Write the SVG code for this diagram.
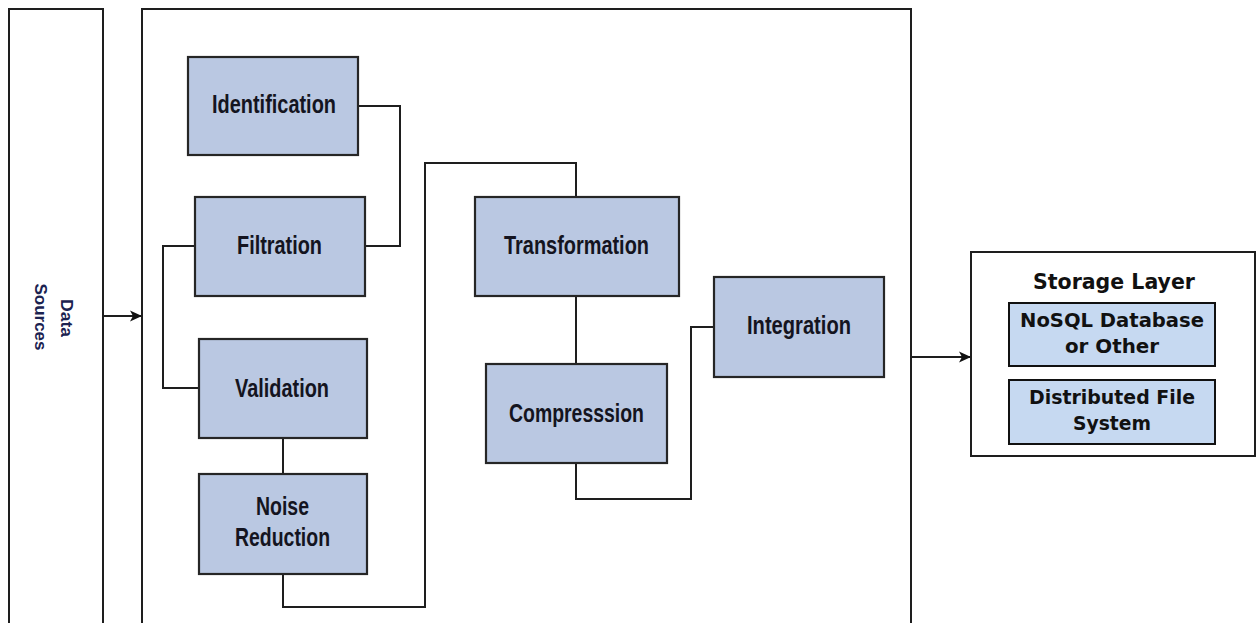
<svg xmlns="http://www.w3.org/2000/svg" width="1259" height="623" viewBox="0 0 1259 623">
  <style>
    .frame { fill: #ffffff; stroke: #1e1e1e; stroke-width: 2; }
    .step { fill: #bac8e2; stroke: #262626; stroke-width: 2.2; }
    .store { fill: #c6d9f1; stroke: #111111; stroke-width: 2; }
    .wire { fill: none; stroke: #1e1e1e; stroke-width: 2; }
    .lbl { font-family: "Liberation Sans", Arial, sans-serif; font-weight: bold; font-size: 25px; fill: #141420; text-anchor: middle; }
    .src { font-family: "Liberation Sans", Arial, sans-serif; font-weight: bold; font-size: 17px; fill: #1b2250; text-anchor: middle; }
    .stg { font-family: "DejaVu Sans", Verdana, sans-serif; font-weight: bold; fill: #111111; text-anchor: middle; }
  </style>
  <defs>
    <marker id="arrow" markerWidth="12" markerHeight="12" refX="11" refY="6" orient="auto" markerUnits="userSpaceOnUse">
      <path d="M0,0.5 L12,6 L0,11.5 L3,6 Z" fill="#111111"/>
    </marker>
  </defs>

  <rect width="1259" height="623" fill="#ffffff"/>

  <!-- data sources column -->
  <g id="data-sources">
    <rect class="frame" x="9" y="9" width="94" height="630"/>
    <text class="src" transform="translate(61,318) rotate(90)" textLength="38" lengthAdjust="spacingAndGlyphs">Data</text>
    <text class="src" transform="translate(35,317) rotate(90)" textLength="67" lengthAdjust="spacingAndGlyphs">Sources</text>
  </g>

  <!-- processing area -->
  <g id="processing">
    <rect class="frame" x="142" y="9" width="769" height="630"/>
  </g>

  <!-- connectors -->
  <g id="connectors">
    <line class="wire" x1="103" y1="316" x2="141" y2="316" marker-end="url(#arrow)"/>
    <polyline class="wire" points="358,106 400,106 400,246 365,246"/>
    <polyline class="wire" points="195,246 163,246 163,388 199,388"/>
    <line class="wire" x1="283" y1="438" x2="283" y2="474"/>
    <polyline class="wire" points="283,574 283,607 425,607 425,163 576,163 576,197"/>
    <line class="wire" x1="576" y1="296" x2="576" y2="364"/>
    <polyline class="wire" points="576,463 576,499 691,499 691,327 714,327"/>
    <line class="wire" x1="911" y1="357" x2="970" y2="357" marker-end="url(#arrow)"/>
  </g>

  <g id="identification">
    <rect class="step" x="188" y="57" width="170" height="98"/>
    <text class="lbl" x="274" y="113" textLength="124" lengthAdjust="spacingAndGlyphs">Identification</text>
  </g>
  <g id="filtration">
    <rect class="step" x="195" y="197" width="170" height="99"/>
    <text class="lbl" x="279.5" y="254" textLength="85" lengthAdjust="spacingAndGlyphs">Filtration</text>
  </g>
  <g id="validation">
    <rect class="step" x="199" y="339" width="168" height="99"/>
    <text class="lbl" x="282" y="397" textLength="94" lengthAdjust="spacingAndGlyphs">Validation</text>
  </g>
  <g id="noise-reduction">
    <rect class="step" x="199" y="474" width="168" height="100"/>
    <text class="lbl" x="282.5" y="515" textLength="53" lengthAdjust="spacingAndGlyphs">Noise</text>
    <text class="lbl" x="282.5" y="546" textLength="95" lengthAdjust="spacingAndGlyphs">Reduction</text>
  </g>
  <g id="transformation">
    <rect class="step" x="475" y="197" width="204" height="99"/>
    <text class="lbl" x="576.5" y="254" textLength="145" lengthAdjust="spacingAndGlyphs">Transformation</text>
  </g>
  <g id="compression">
    <rect class="step" x="486" y="364" width="181" height="99"/>
    <text class="lbl" x="576.5" y="422" textLength="135" lengthAdjust="spacingAndGlyphs">Compresssion</text>
  </g>
  <g id="integration">
    <rect class="step" x="714" y="277" width="170" height="100"/>
    <text class="lbl" x="799" y="334" textLength="104" lengthAdjust="spacingAndGlyphs">Integration</text>
  </g>

  <!-- storage layer -->
  <g id="storage-layer">
    <rect class="frame" x="971" y="252" width="284" height="204"/>
    <text class="stg" x="1114" y="289" font-size="22" textLength="162" lengthAdjust="spacingAndGlyphs">Storage Layer</text>
  </g>
  <g id="nosql-database">
    <rect class="store" x="1009" y="303" width="206" height="63"/>
    <text class="stg" x="1112" y="327" font-size="19" textLength="184" lengthAdjust="spacingAndGlyphs">NoSQL Database</text>
    <text class="stg" x="1112" y="353" font-size="19" textLength="94" lengthAdjust="spacingAndGlyphs">or Other</text>
  </g>
  <g id="distributed-file-system">
    <rect class="store" x="1009" y="380" width="206" height="64"/>
    <text class="stg" x="1112" y="404" font-size="19" textLength="166" lengthAdjust="spacingAndGlyphs">Distributed File</text>
    <text class="stg" x="1112" y="430" font-size="19" textLength="78" lengthAdjust="spacingAndGlyphs">System</text>
  </g>
</svg>
